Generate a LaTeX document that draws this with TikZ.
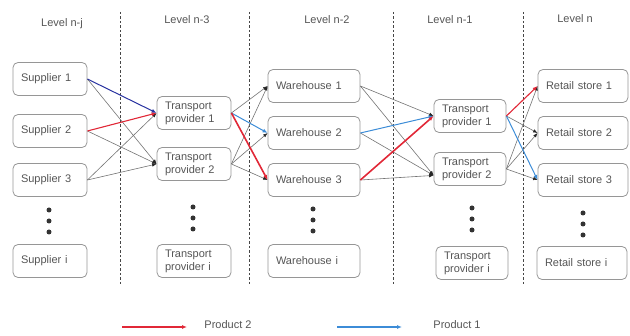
\documentclass[tikz,border=0pt]{standalone}
\usepackage{fontspec}
\setmainfont{Liberation Sans}
\usetikzlibrary{arrows.meta}
\definecolor{txt}{RGB}{85,85,85}
\definecolor{edge}{RGB}{115,115,115}
\definecolor{boxline}{RGB}{150,150,150}
\definecolor{pred}{RGB}{225,40,55}
\definecolor{pblue}{RGB}{60,140,215}
\definecolor{pnavy}{RGB}{40,50,160}
\definecolor{divider}{RGB}{70,70,70}
\begin{document}
\begin{tikzpicture}[x=1pt,y=-1pt,
  font=\fontsize{11}{13}\selectfont, text=txt,
  unit/.style={draw=boxline, line width=0.8pt, rounded corners=5pt, align=left,
    inner xsep=8pt, inner ysep=0pt, minimum height=33pt, text width=#1},
  sbox/.style={unit=58pt},
  tbox/.style={unit=58pt},
  wbox/.style={unit=76pt},
  rbox/.style={unit=74pt},
  qbox/.style={unit=56pt},
  level/.style={text=txt},
  dot/.style={circle, fill=black!80, inner sep=0pt, minimum size=5pt},
  divline/.style={draw=divider, line width=0.9pt, dash pattern=on 2.5pt off 2pt},
  plain/.style={draw=edge, line width=0.6pt, -{Latex[length=4.5pt,width=3.5pt,color=black!85]}},
  prodtwo/.style={draw=pred, line width=1.1pt, -{Latex[length=5pt,width=4pt]}},
  prodtwothick/.style={prodtwo, line width=1.6pt},
  prodone/.style={draw=pblue, line width=1pt, -{Latex[length=5pt,width=4pt]}},
  prodnavy/.style={draw=pnavy, line width=1pt, -{Latex[length=5pt,width=4pt]}},
]
\useasboundingbox (0,0) rectangle (630,336);

% level headings
\node[level] (hj) at (62,24) {Level n-j};
\node[level] (h3) at (187,20) {Level n-3};
\node[level] (h2) at (327,20) {Level n-2};
\node[level] (h1) at (450,20) {Level n-1};
\node[level] (h0) at (575,19) {Level n};

% dashed dividers between levels
\foreach \x/\n in {120/a,249/b,393/c,523/d}{
  \coordinate (top\n) at (\x,12);
  \coordinate (bot\n) at (\x,286);
  \draw[divline] (top\n) -- (bot\n);
}

% suppliers
\node[sbox] (s1) at (50,79) {Supplier 1};
\node[sbox] (s2) at (50,131) {Supplier 2};
\node[sbox] (s3) at (50,180) {Supplier 3};
\node[sbox] (si) at (50,261) {Supplier i};

% transport providers (level n-3)
\node[tbox] (t1) at (194,113) {Transport\\provider 1};
\node[tbox] (t2) at (194,164) {Transport\\provider 2};
\node[tbox] (ti) at (194,261) {Transport\\provider i};

% warehouses
\node[wbox] (w1) at (314,86) {Warehouse 1};
\node[wbox] (w2) at (314,133) {Warehouse 2};
\node[wbox] (w3) at (314,180) {Warehouse 3};
\node[wbox] (wi) at (314,261) {Warehouse i};

% transport providers (level n-1)
\node[qbox] (q1) at (470,116) {Transport\\provider 1};
\node[qbox] (q2) at (470,169) {Transport\\provider 2};
\node[qbox] (qi) at (472,263) {Transport\\provider i};

% retail stores
\node[rbox] (r1) at (583,86) {Retail store 1};
\node[rbox] (r2) at (583,133) {Retail store 2};
\node[rbox] (r3) at (583,180) {Retail store 3};
\node[rbox] (ri) at (582,263) {Retail store i};

% vertical ellipses
\foreach \c/\x/\y in {s/49/210, t/193/207, w/313/209, q/472/208, r/583/213}{
  \node[dot] (\c-e1) at (\x,\y) {};
  \node[dot] (\c-e2) at (\x,\y+11) {};
  \node[dot] (\c-e3) at (\x,\y+22) {};
}

% general flows
\draw[plain] (s1.east) -- (t2.west);
\draw[plain] (s2.east) -- (t2.west);
\draw[plain] (s3.east) -- (t1.west);
\draw[plain] (s3.east) -- (t2.west);

\draw[plain] (t1.east) -- (w1.west);
\draw[plain] (t2.east) -- (w1.west);
\draw[plain] (t2.east) -- (w2.west);
\draw[plain] (t2.east) -- (w3.west);

\draw[plain] (w1.east) -- (q1.west);
\draw[plain] (w1.east) -- (q2.190);
\draw[plain] (w2.east) -- (q2.190);
\draw[plain] (w3.east) -- (q2.190);

\draw[plain] (q1.east) -- (r2.west);
\draw[plain] (q2.east) -- (r1.west);
\draw[plain] (q2.east) -- (r2.west);
\draw[plain] (q2.east) -- (r3.west);

% product 1 route
\draw[prodnavy] (s1.east) -- (t1.west);
\draw[prodone] (t1.east) -- (w2.west);
\draw[prodone] (w2.east) -- (q1.west);
\draw[prodone] (q1.east) -- (r3.west);

% product 2 route
\draw[prodtwo] (s2.east) -- (t1.west);
\draw[prodtwothick] (t1.east) -- (w3.west);
\draw[prodtwothick] (w3.east) -- (q1.west);
\draw[prodtwo] (q1.east) -- (r1.west);

% legend
\coordinate (l2a) at (122,327);
\coordinate (l2b) at (187,327);
\coordinate (l1a) at (337,327);
\coordinate (l1b) at (402,327);
\draw[prodtwo, line width=1.3pt] (l2a) -- (l2b);
\draw[prodone, line width=1.2pt] (l1a) -- (l1b);
\node (lp2) at (228,325) {Product 2};
\node (lp1) at (457,325) {Product 1};
\end{tikzpicture}
\end{document}
